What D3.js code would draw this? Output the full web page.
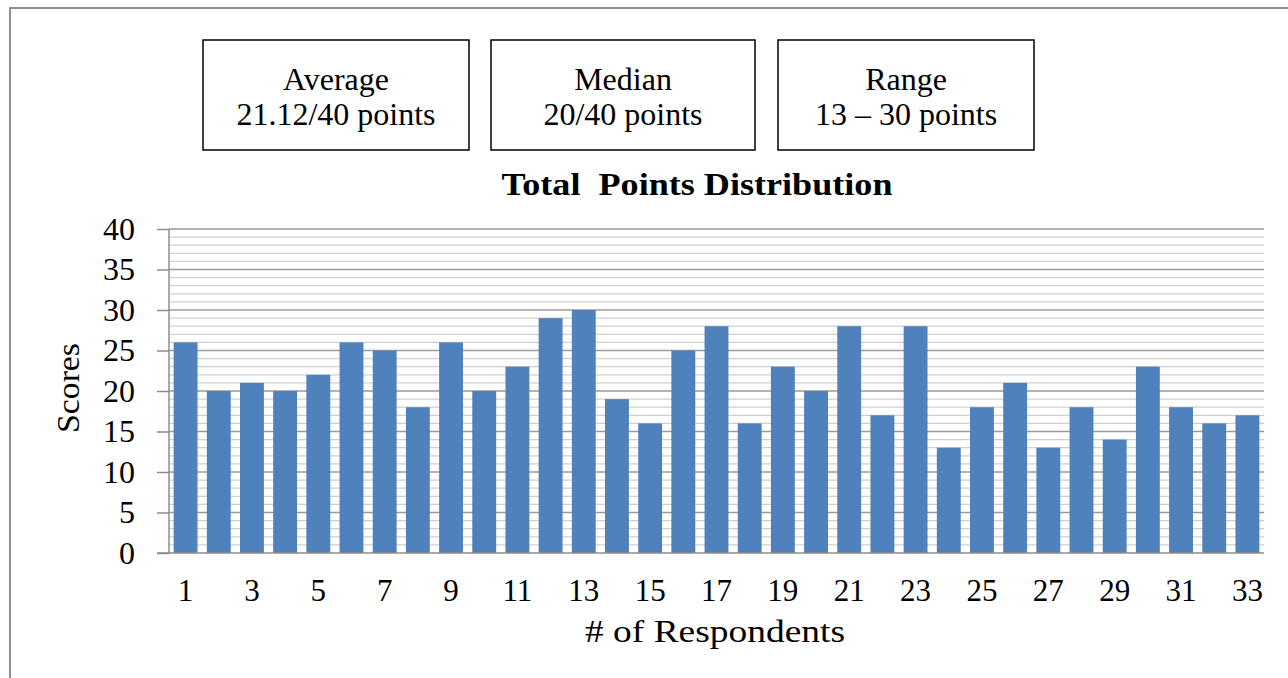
<!DOCTYPE html>
<html>
<head>
<meta charset="utf-8">
<script src="https://cdn.jsdelivr.net/npm/d3@7"></script>
<style>
  body { margin: 0; background: #fff; }
  svg text { font-family: "Liberation Serif", "Times New Roman", serif; fill: #000; }
</style>
</head>
<body>
<div id="chart"></div>
<script>
// respondents 1..33 and their total scores (out of 40)
const respondents = d3.range(1, 34);
const scores = [26, 20, 21, 20, 22, 26, 25, 18, 26, 20, 23, 29, 30, 19, 16, 25, 28,
                16, 23, 20, 28, 17, 28, 13, 18, 21, 13, 18, 14, 23, 18, 16, 17];
const yTicks = [0, 5, 10, 15, 20, 25, 30, 35, 40];
const statBoxes = [
    ["Average", "21.12/40 points"],
    ["Median", "20/40 points"],
    ["Range", "13 \u2013 30 points"]
];

const W = 1288, H = 678;
const margin = { top: 229, right: 24, bottom: 125, left: 169 };
const width = W - margin.left - margin.right;
const height = H - margin.top - margin.bottom;

const root = d3.select("#chart").append("svg")
    .attr("width", W)
    .attr("height", H);

// outer frame (runs off the right and bottom edge)
root.append("rect")
    .attr("x", 10).attr("y", 8)
    .attr("width", W + 20).attr("height", H + 20)
    .attr("fill", "none")
    .attr("stroke", "#8f8f8f")
    .attr("stroke-width", 2);

// stat boxes above the chart
const boxX = [203, 491, 778];
const boxW = [266, 264, 256];
statBoxes.forEach((lines, i) => {
    const g = root.append("g").attr("transform", `translate(${boxX[i]},40)`);
    g.append("rect")
        .attr("width", boxW[i]).attr("height", 110)
        .attr("fill", "#fff")
        .attr("stroke", "#000")
        .attr("stroke-width", 1.5);
    lines.forEach((t, j) => {
        g.append("text")
            .attr("x", boxW[i] / 2)
            .attr("y", 50 + j * 35)
            .attr("text-anchor", "middle")
            .style("font-size", "32px")
            .text(t);
    });
});

// the source picture is a bit stretched sideways, so some labels get a fixed length
root.append("text")
    .attr("x", 697)
    .attr("y", 195)
    .attr("text-anchor", "middle")
    .attr("textLength", 391)
    .attr("lengthAdjust", "spacingAndGlyphs")
    .style("font-size", "32px")
    .style("font-weight", "bold")
    .style("white-space", "pre")
    .text("Total  Points Distribution");

const svg = root.append("g")
    .attr("transform", `translate(${margin.left},${margin.top})`);

const x = d3.scaleBand()
    .domain(respondents)
    .range([0, width])
    .paddingInner(0.28)
    .paddingOuter(0.14);

const y = d3.scaleLinear()
    .domain([0, 40])
    .range([height, 0]);

// minor gridlines every point, major every 5
svg.selectAll(".minor")
    .data(d3.range(1, 40).filter(v => v % 5 !== 0))
    .enter().append("line")
    .attr("class", "minor")
    .attr("x1", 0).attr("x2", width)
    .attr("y1", d => y(d)).attr("y2", d => y(d))
    .attr("stroke", "#cfcfcf")
    .attr("stroke-width", 1.3);

svg.selectAll(".major")
    .data(yTicks.filter(v => v > 0))
    .enter().append("line")
    .attr("class", "major")
    .attr("x1", 0).attr("x2", width)
    .attr("y1", d => y(d)).attr("y2", d => y(d))
    .attr("stroke", "#9a9a9a")
    .attr("stroke-width", 1.5);

svg.selectAll(".bar")
    .data(scores)
    .enter().append("rect")
    .attr("class", "bar")
    .attr("x", (d, i) => x(respondents[i]))
    .attr("y", d => y(d))
    .attr("width", x.bandwidth())
    .attr("height", d => height - y(d))
    .attr("fill", "#4f81bd");

// y axis
const yAxis = svg.append("g")
    .call(d3.axisLeft(y).tickValues(yTicks).tickSize(12).tickPadding(22));
yAxis.select(".domain").attr("stroke", "#8c8c8c").attr("stroke-width", 1.5)
    .attr("d", `M0,${height}V0`);
yAxis.selectAll(".tick line").attr("stroke", "#8c8c8c").attr("stroke-width", 1.5);
yAxis.selectAll("text")
    .style("font-size", "32px")
    .style("font-family", "Liberation Serif, serif")
    .attr("dy", "0.32em");

// x axis
const xAxis = svg.append("g")
    .attr("transform", `translate(0,${height})`)
    .call(d3.axisBottom(x)
        .tickValues(respondents.filter(d => d % 2 === 1))
        .tickSize(0)
        .tickPadding(26));
xAxis.select(".domain").attr("stroke", "#8c8c8c").attr("stroke-width", 1.5)
    .attr("d", `M-12,0H${width}`);
xAxis.selectAll("text")
    .style("font-size", "31px")
    .style("font-family", "Liberation Serif, serif");

svg.append("text")
    .attr("x", 715 - margin.left)
    .attr("y", height + 89)
    .attr("text-anchor", "middle")
    .attr("textLength", 260)
    .attr("lengthAdjust", "spacingAndGlyphs")
    .style("font-size", "32px")
    .text("# of Respondents");

svg.append("text")
    .attr("transform", `translate(${79 - margin.left},${388 - margin.top}) rotate(-90)`)
    .attr("text-anchor", "middle")
    .attr("textLength", 90)
    .attr("lengthAdjust", "spacingAndGlyphs")
    .style("font-size", "31px")
    .text("Scores");
</script>
</body>
</html>
